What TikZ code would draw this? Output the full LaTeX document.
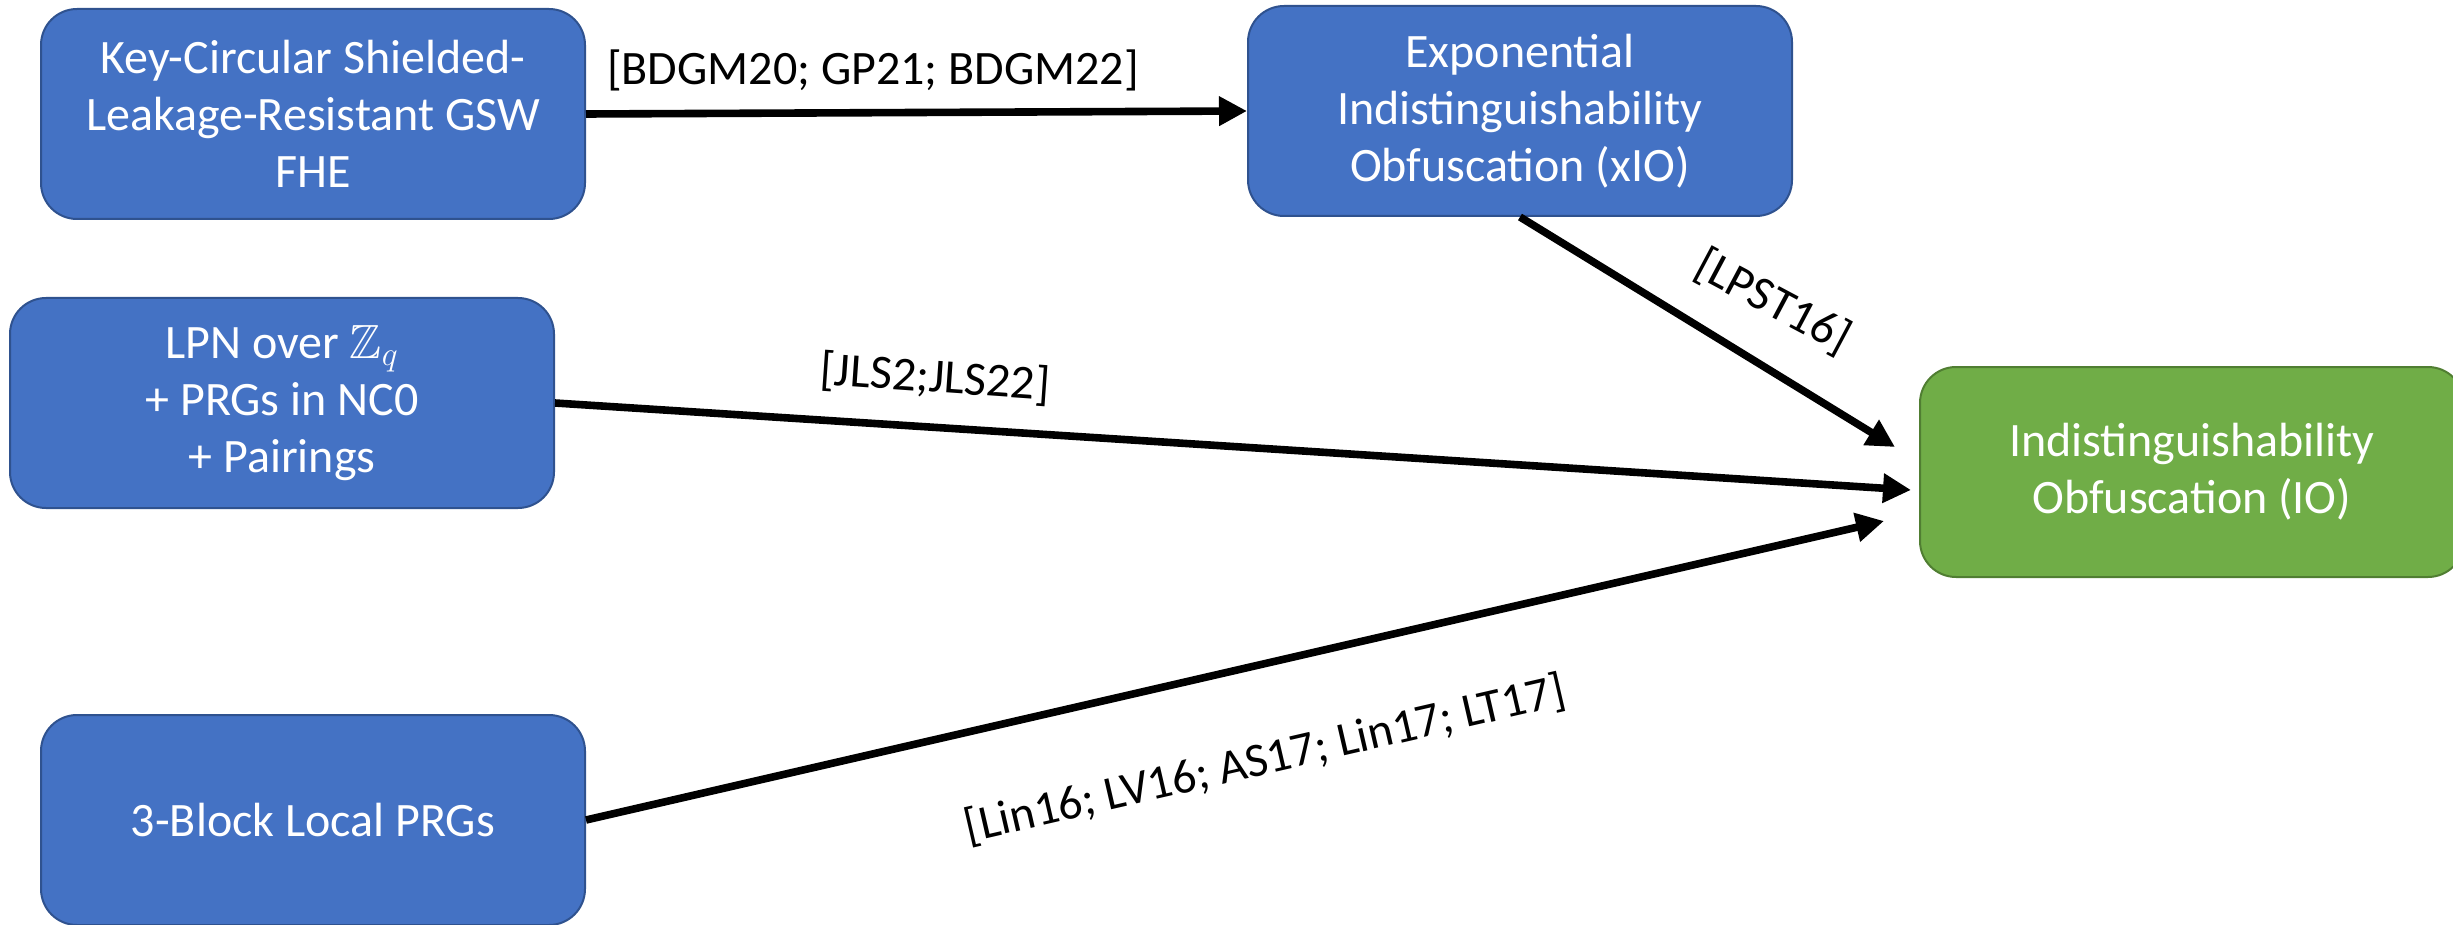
\RequirePackage{fix-cm}
\documentclass[tikz,border=0pt]{standalone}
\usepackage{amssymb}
\usepackage{fontspec}
\setmainfont{Carlito}
\usetikzlibrary{arrows.meta}
\definecolor{boxblue}{HTML}{4472C4}
\definecolor{boxblueedge}{HTML}{2F528F}
\definecolor{boxgreen}{HTML}{70AD47}
\definecolor{boxgreenedge}{HTML}{507E32}
\begin{document}
\begin{tikzpicture}[x=0.5pt,y=-0.5pt,
  concept/.style={rectangle, rounded corners=18pt, fill=boxblue, draw=boxblueedge,
    line width=1pt, minimum width=272pt, minimum height=105pt, text=white,
    align=center, font=\fontsize{24}{28.5}\selectfont, inner sep=0pt},
  goal/.style={concept, fill=boxgreen, draw=boxgreenedge},
  link/.style={line width=3.8pt, -{Triangle[length=14pt,width=14pt]}},
  cite/.style={font=\fontsize{24}{28}\selectfont, inner sep=0pt, text=black}]
\clip (0,0) rectangle (2453,925);

% assumption boxes
\node[concept] (fhe) at (313,114) {Key-Circular Shielded-\\Leakage-Resistant GSW\\FHE};
\node[concept] (xio) at (1520,111) {Exponential\\Indistinguishability\\Obfuscation (xIO)};
\node[concept] (lpn) at (282,403) {LPN over $\mathbb{Z}_q$\\+ PRGs in NC0\\+ Pairings};
\node[concept] (prg) at (313,820) {3-Block Local PRGs};
\node[goal] (io) at (2192,472) {Indistinguishability\\Obfuscation (IO)};

% arrow tips stop just short of the IO box
\coordinate (ioA) at (1895,447);
\coordinate (ioB) at (1911,490);
\coordinate (ioC) at (1884,521);

\draw[link] (fhe.east) -- (xio.west);
\draw[link] (xio.south) -- (ioA);
\draw[link] (lpn.east) -- (ioB);
\draw[link] (prg.east) -- (ioC);

% citation labels
\node[cite] (c1) at (873,70) {[BDGM20; GP21; BDGM22]};
\node[cite, rotate=-28] (c2) at (1773,302) {[LPST16]};
\node[cite, rotate=-4] (c3) at (935,378) {[JLS2;JLS22]};
\node[cite, rotate=13] (c4) at (1265,760) {[Lin16; LV16; AS17; Lin17; LT17]};
\end{tikzpicture}
\end{document}
